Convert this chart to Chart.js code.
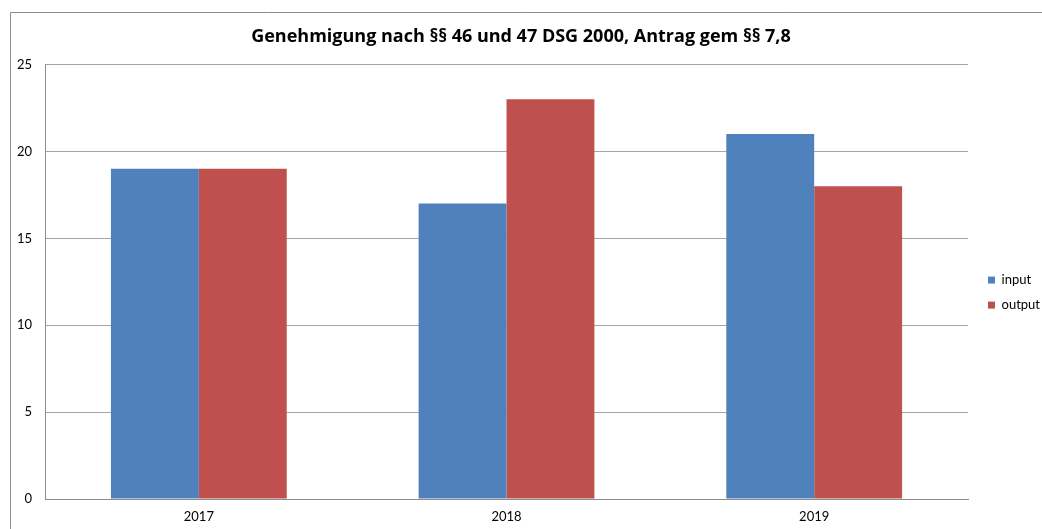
<!DOCTYPE html>
<html lang="de">
<head>
    <meta charset="UTF-8">
    <title>Genehmigung nach §§ 46 und 47 DSG 2000</title>
    <script src="https://cdn.jsdelivr.net/npm/chart.js"></script>
    <style>
        html, body { margin: 0; padding: 0; background: #fff; }
        #wrap { width: 1042px; height: 529px; position: relative; }
    </style>
</head>
<body>
    <div id="wrap"><canvas id="chart"></canvas></div>

    <script>
        // Daten aus dem Diagramm
        const years = ["2017", "2018", "2019"];
        const inputValues = [19, 17, 21];
        const outputValues = [19, 23, 18];
        const yTicks = [0, 5, 10, 15, 20, 25];

        // Rahmen um das ganze Diagramm (links + oben)
        const frame = {
            id: "frame",
            beforeDraw(chart) {
                const c = chart.ctx;
                c.save();
                c.strokeStyle = "#8c8c8c";
                c.lineWidth = 1;
                c.beginPath();
                c.moveTo(10.5, 529);
                c.lineTo(10.5, 12.5);
                c.lineTo(1042, 12.5);
                c.stroke();
                c.restore();
            }
        };

        // Legende etwas weiter nach rechts schieben
        const legendShift = {
            id: "legendShift",
            afterLayout(chart) {
                chart.legend.left += 8;
            }
        };

        const ctx = document.getElementById("chart").getContext("2d");
        new Chart(ctx, {
            type: "bar",
            data: {
                labels: years,
                datasets: [
                    { label: "input", data: inputValues, backgroundColor: "#4F81BD" },
                    { label: "output", data: outputValues, backgroundColor: "#C0504D" }
                ]
            },
            options: {
                responsive: true,
                maintainAspectRatio: false,
                animation: false,
                datasets: { bar: { categoryPercentage: 0.5714, barPercentage: 1.0 } },
                layout: { padding: 0 },
                plugins: {
                    title: {
                        display: true,
                        text: "Genehmigung nach §§ 46 und 47 DSG 2000, Antrag gem §§ 7,8",
                        color: "#000",
                        font: { family: "Open Sans", size: 18, weight: "bold" },
                        padding: { top: 26, bottom: 17 }
                    },
                    legend: {
                        position: "right",
                        align: "start",
                        // leerer Titel schiebt die Einträge nach unten
                        title: { display: true, text: " ", font: { size: 13 }, padding: { top: 246, bottom: 0 } },
                        labels: {
                            boxWidth: 7,
                            boxHeight: 7,
                            padding: 12,
                            color: "#000",
                            font: { family: "Lato", size: 13 }
                        }
                    },
                    tooltip: { enabled: false }
                },
                scales: {
                    x: {
                        grid: { display: false, drawTicks: false },
                        border: { color: "#8c8c8c" },
                        ticks: { color: "#000", font: { family: "Lato", size: 13 }, padding: 10 },
                        afterFit(scale) { scale.height = 30; }
                    },
                    y: {
                        min: 0,
                        max: 25,
                        afterBuildTicks(scale) { scale.ticks = yTicks.map(v => ({ value: v })); },
                        grid: { color: "#a6a6a6", drawTicks: false },
                        border: { color: "#8c8c8c" },
                        ticks: { color: "#000", font: { family: "Lato", size: 13 }, padding: 13 },
                        afterFit(scale) { scale.width = 45; }
                    }
                }
            },
            plugins: [frame, legendShift]
        });
    </script>
</body>
</html>
